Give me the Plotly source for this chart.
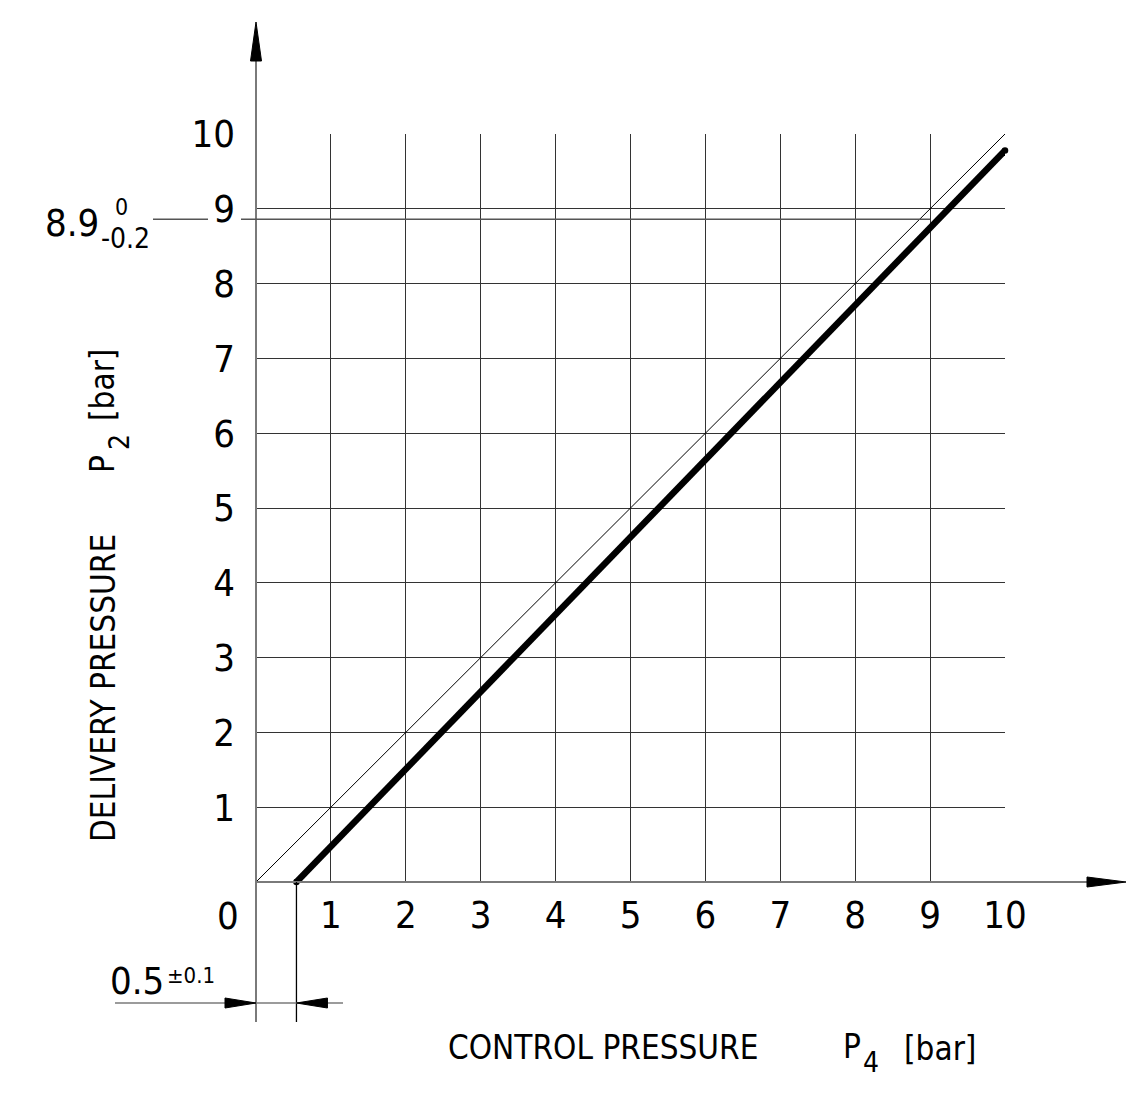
import plotly.graph_objects as go

# ---- data ----
control_pressure = [0.54, 10.0]    # P4 [bar]
delivery_pressure = [0.0, 9.78]    # P2 [bar]
reference_x = [0.0, 10.0]          # thin 1:1 line
reference_y = [0.0, 10.0]
setpoint_p2 = 8.86                 # 8.9 (0/-0.2) marker line
threshold_p4 = 0.54                # 0.5 +-0.1 opening point
tick_values = [1, 2, 3, 4, 5, 6, 7, 8, 9, 10]
tick_labels = [str(v) for v in tick_values]

# ---- layout geometry (screen pixels of the reference) ----
W, H = 1145, 1103
PAGE = 8               # browser page margin around the figure
X0, SX = 256.0, 74.9   # screen pixel of x=0, pixels per bar
Y0, SY = 882.0, 74.8   # screen pixel of y=0, pixels per bar


def px2x(p):
    return (p - X0) / SX


def py2y(p):
    return (Y0 - p) / SY


FONT = "Liberation Sans Narrow, DejaVu Sans Condensed, Arial Narrow, sans-serif"
AXC = "#7a7a7a"
GRIDC = "#333333"

fig = go.Figure()

# main curves on the primary axes
fig.add_trace(go.Scatter(x=reference_x, y=reference_y, mode="lines",
                         line=dict(color="black", width=1), cliponaxis=False,
                         hoverinfo="skip"))
fig.add_trace(go.Scatter(x=control_pressure, y=delivery_pressure, mode="lines+markers",
                         line=dict(color="black", width=6.5),
                         marker=dict(color="black", size=6.5), cliponaxis=False,
                         hoverinfo="skip"))

# full-page axes (same scale) for axes, arrows and dimensions
ov = dict(xaxis="x2", yaxis="y2", hoverinfo="skip", cliponaxis=False, showlegend=False)
y_bottom = py2y(1022)
# y-axis line and arrow
fig.add_trace(go.Scatter(x=[0, 0], y=[y_bottom, py2y(58)], mode="lines",
                         line=dict(color=AXC, width=2), **ov))
fig.add_trace(go.Scatter(x=[-5.5 / SX, 5.5 / SX, 0, -5.5 / SX],
                         y=[py2y(61), py2y(61), py2y(22), py2y(61)],
                         mode="lines", fill="toself", fillcolor="black",
                         line=dict(color="black", width=1), **ov))
# x-axis line and arrow
fig.add_trace(go.Scatter(x=[0, px2x(1090)], y=[0, 0], mode="lines",
                         line=dict(color=AXC, width=2), **ov))
fig.add_trace(go.Scatter(x=[px2x(1087), px2x(1087), px2x(1126), px2x(1087)],
                         y=[5 / SY, -5 / SY, 0, 5 / SY],
                         mode="lines", fill="toself", fillcolor="black",
                         line=dict(color="black", width=1), **ov))
# vertical extension at the threshold
fig.add_trace(go.Scatter(x=[threshold_p4, threshold_p4], y=[0, y_bottom], mode="lines",
                         line=dict(color="black", width=1.3), **ov))
# dimension line with arrows
y_dim = py2y(1003)
fig.add_trace(go.Scatter(x=[px2x(115), px2x(343)], y=[y_dim, y_dim], mode="lines",
                         line=dict(color=AXC, width=1.5), **ov))
ah_len, ah_half = 31 / SX, 5 / SY
fig.add_trace(go.Scatter(x=[-ah_len, -ah_len, 0, -ah_len],
                         y=[y_dim + ah_half, y_dim - ah_half, y_dim, y_dim + ah_half],
                         mode="lines", fill="toself", fillcolor="black",
                         line=dict(color="black", width=1), **ov))
fig.add_trace(go.Scatter(x=[threshold_p4 + ah_len, threshold_p4 + ah_len, threshold_p4,
                            threshold_p4 + ah_len],
                         y=[y_dim + ah_half, y_dim - ah_half, y_dim, y_dim + ah_half],
                         mode="lines", fill="toself", fillcolor="black",
                         line=dict(color="black", width=1), **ov))
# 8.9 leader line
fig.add_trace(go.Scatter(x=[px2x(153), px2x(208), None, px2x(241), 9],
                         y=[setpoint_p2, setpoint_p2, None, setpoint_p2, setpoint_p2],
                         mode="lines", line=dict(color="#555555", width=1.5), **ov))

# ---- annotations ----
ann = []


def txt(text, xp, yp, size, xanchor="center", yanchor="middle", angle=0):
    ann.append(dict(text=text, x=px2x(xp), y=py2y(yp), xref="x2", yref="y2",
                    showarrow=False, xanchor=xanchor, yanchor=yanchor, textangle=angle,
                    font=dict(family=FONT, size=size, color="black")))


txt("0", 228, 916, 38)
txt("8.9", 101, 223, 38, xanchor="right")
txt("0", 121, 207, 23)
txt("-0.2", 125, 238, 28)
txt("0.5", 166, 981, 38, xanchor="right")
txt("±0.1", 191, 975, 22)
txt("CONTROL PRESSURE", 446, 1047, 33, xanchor="left")
txt("P", 841, 1046, 33, xanchor="left")
txt("4", 871, 1062, 28)
txt("[bar]", 902, 1048, 33, xanchor="left")
txt("DELIVERY PRESSURE", 103, 688, 33, angle=-90)
txt("P", 102, 464, 33, angle=-90)
txt("2", 119, 442, 28, angle=-90)
txt("[bar]", 102, 385, 33, angle=-90)

# figure-pixel positions = screen pixels - PAGE
fx0, fy0 = X0 - PAGE, Y0 - PAGE
xd = [fx0 / W, (fx0 + 10 * SX) / W]
yd = [(H - fy0) / H, (H - fy0 + 10 * SY) / H]

fig.update_layout(
    template="none",
    width=W, height=H, autosize=False,
    margin=dict(l=0, r=0, t=0, b=0, pad=0, autoexpand=False),
    paper_bgcolor="white", plot_bgcolor="rgba(0,0,0,0)",
    showlegend=False,
    annotations=ann,
    xaxis=dict(domain=xd, range=[0, 10], tickvals=tick_values, ticktext=tick_labels,
               showgrid=True, gridcolor=GRIDC, gridwidth=1, zeroline=False,
               showline=False, ticks="", ticklabelstandoff=7, fixedrange=True,
               automargin=False, anchor="y",
               tickfont=dict(family=FONT, size=38, color="black")),
    yaxis=dict(domain=yd, range=[0, 10], tickvals=tick_values, ticktext=tick_labels,
               showgrid=True, gridcolor=GRIDC, gridwidth=1, zeroline=False,
               showline=False, ticks="", ticklabelstandoff=20, fixedrange=True,
               automargin=False, anchor="x",
               tickfont=dict(family=FONT, size=38, color="black")),
    xaxis2=dict(domain=[0, 1], range=[px2x(PAGE), px2x(W + PAGE)], anchor="y2",
                visible=False, fixedrange=True, automargin=False),
    yaxis2=dict(domain=[0, 1], range=[py2y(H + PAGE), py2y(PAGE)], anchor="x2",
                visible=False, fixedrange=True, automargin=False),
)

fig.write_html("out.html")
